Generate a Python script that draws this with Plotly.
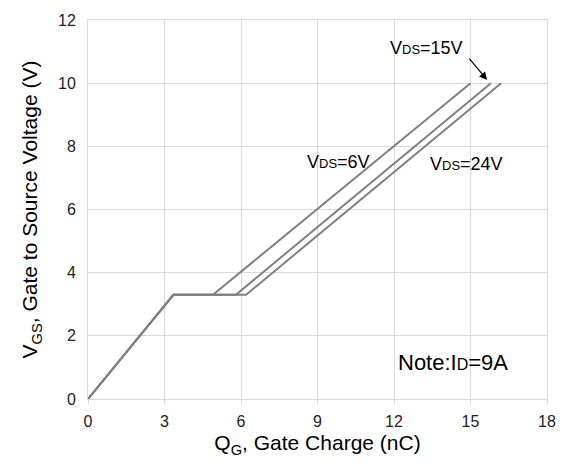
import plotly.graph_objects as go

# Gate charge curves (Q_G in nC, V_GS in V) for three drain-source voltages
vds_labels = ["6V", "15V", "24V"]
qg_6v = [0.0, 3.35, 4.9, 15.0]
vgs_6v = [0.0, 3.3, 3.3, 10.0]
qg_15v = [0.0, 3.35, 5.8, 15.8]
vgs_15v = [0.0, 3.3, 3.3, 10.0]
qg_24v = [0.0, 3.35, 6.2, 16.2]
vgs_24v = [0.0, 3.3, 3.3, 10.0]

x_ticks = [0, 3, 6, 9, 12, 15, 18]
y_ticks = [0, 2, 4, 6, 8, 10, 12]

FONT = "Liberation Sans, Arial, sans-serif"
LINE = "#808080"
GRID = "#d9d9d9"

fig = go.Figure()
for qg, vgs, name in [(qg_6v, vgs_6v, vds_labels[0]),
                      (qg_15v, vgs_15v, vds_labels[1]),
                      (qg_24v, vgs_24v, vds_labels[2])]:
    fig.add_trace(go.Scatter(x=qg, y=vgs, mode="lines", name=name,
                             line=dict(color=LINE, width=2), showlegend=False))


def vds(label):
    return "V<span style='font-size:13px'>DS</span>=" + label


fig.add_annotation(x=15.65, y=10.1, ax=-19, ay=-23, text="",
                   showarrow=True, arrowhead=2, arrowsize=1.3, arrowwidth=1.2,
                   arrowcolor="#000000", xref="x", yref="y")
fig.add_annotation(x=13.26, y=11.1, text=vds(vds_labels[1]), showarrow=False,
                   font=dict(size=18, color="#000000", family=FONT))
fig.add_annotation(x=9.82, y=7.5, text=vds(vds_labels[0]), showarrow=False,
                   font=dict(size=18, color="#000000", family=FONT))
fig.add_annotation(x=14.83, y=7.44, text=vds(vds_labels[2]), showarrow=False,
                   font=dict(size=18, color="#000000", family=FONT))
fig.add_annotation(x=14.3, y=1.16,
                   text="Note:I<span style='font-size:16px'>D</span>=9A",
                   showarrow=False,
                   font=dict(size=22, color="#000000", family=FONT))

fig.update_layout(
    width=568, height=467,
    margin=dict(l=88, r=20, t=14, b=68),
    paper_bgcolor="white", plot_bgcolor="white",
    font=dict(family=FONT, color="#222222", size=16),
    xaxis=dict(range=[0, 18], tickvals=x_ticks, showgrid=True, gridcolor=GRID,
               gridwidth=1, zeroline=False, showline=True, linecolor=GRID,
               mirror=True, ticks="outside", ticklen=4, tickcolor=GRID,
               ticklabelstandoff=4,
               tickfont=dict(size=16, color="#222222"),
               title=dict(text="Q<sub>G</sub>, Gate Charge (nC)",
                          font=dict(size=21, color="#000000"), standoff=6)),
    yaxis=dict(range=[0, 12], tickvals=y_ticks, showgrid=True, gridcolor=GRID,
               gridwidth=1, zeroline=False, showline=True, linecolor=GRID,
               mirror=True, ticks="", ticklabelstandoff=8,
               tickfont=dict(size=16, color="#222222"),
               title=dict(text="V<sub>GS</sub>, Gate to Source Voltage (V)",
                          font=dict(size=21, color="#000000"), standoff=14)),
)

fig.write_html("out.html")
